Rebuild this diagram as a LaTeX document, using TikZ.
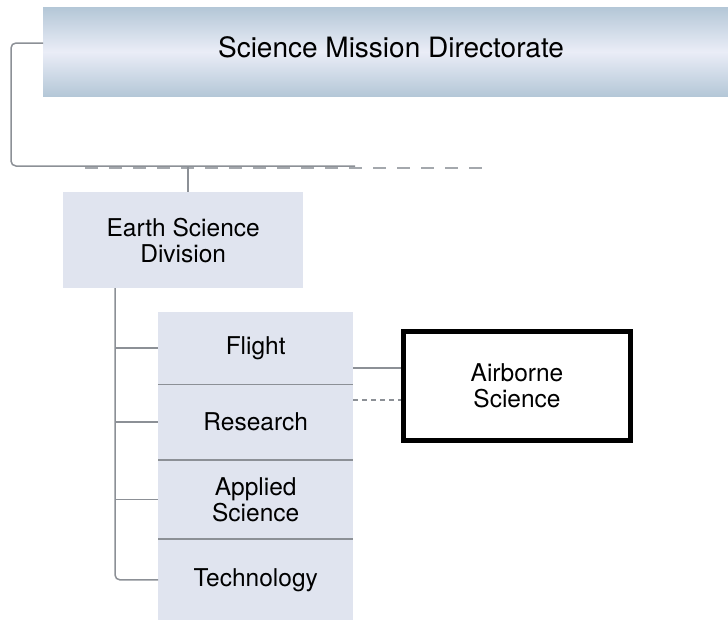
\documentclass[tikz,border=0pt]{standalone}
\usepackage{fontspec}
\setmainfont{TeX Gyre Heros}
\usetikzlibrary{positioning}

\definecolor{edgeblue}{HTML}{B4C7D7}
\definecolor{midblue}{HTML}{EAEDF7}
\definecolor{boxfill}{HTML}{E0E4EF}
\definecolor{linegray}{HTML}{8C9096}
\definecolor{dashgray}{HTML}{A4A8AD}

\tikzset{
  topbox/.style={top color=edgeblue, bottom color=edgeblue, middle color=midblue,
    draw=none, minimum width=685pt, minimum height=89pt, inner sep=0pt},
  unitbox/.style={fill=boxfill, draw=none, inner sep=0pt, align=center,
    font=\fontsize{24.5}{26}\selectfont},
  airbox/.style={draw=black, line width=5pt, fill=white, inner sep=0pt, align=center,
    minimum width=227pt, minimum height=109pt, font=\fontsize{24.5}{26}\selectfont},
  conn/.style={draw=linegray, line width=1.5pt},
  divider/.style={draw=linegray, line width=1.5pt}
}

\begin{document}
\begin{tikzpicture}[x=1pt,y=-1pt]
            \useasboundingbox (0,0) rectangle (728,619);
            % directorate
            \node [topbox, anchor=north west] (smd) at (43,7) {};
            \node [font=\fontsize{28}{30}\selectfont] (smdtext) at (391,47) {Science Mission Directorate};
            % division
            \node [unitbox, minimum width=240pt, minimum height=96pt, anchor=north west] (esd) at (63,192) {Earth Science\\Division};
            % the four programs
            \node [unitbox, minimum width=195pt, minimum height=72pt, anchor=north west] (flight) at (158,312) {Flight};
            \node [unitbox, minimum width=195pt, minimum height=75pt, below=0pt of flight] (research) {Research};
            \node [unitbox, minimum width=195pt, minimum height=79pt, below=0pt of research] (applied) {Applied\\Science};
            \node [unitbox, minimum width=195pt, minimum height=81pt, below=0pt of applied] (tech) {Technology};
            \draw [divider] (flight.south west) -- (flight.south east);
            \draw [divider] (research.south west) -- (research.south east);
            \draw [divider] (applied.south west) -- (applied.south east);
            % airborne science
            \node [airbox] (air) at (517,386) {Airborne\\Science};
            % connectors
            \coordinate (smdleft) at (43,43);
            \coordinate (bar) at (11,166);
            \coordinate (barend) at (355,166);
            \coordinate (trunk) at (115,288);
            \draw [dashgray, line width=1.5pt, dash pattern=on 13pt off 11pt] (85,168) -- (490,168);
            \draw [conn, rounded corners=5pt] (smdleft) -- (smdleft -| bar) -- (bar) -- (barend);
            \draw [conn] (bar -| 188,0) -- (esd.north -| 188,0);
            \draw [conn, rounded corners=5pt] (trunk) -- (tech.west -| trunk) -- (tech.west);
            \draw [conn] (flight.west -| trunk) -- (flight.west);
            \draw [conn] (research.west -| trunk) -- (research.west);
            \draw [conn] (applied.west -| trunk) -- (applied.west);
            \draw [conn] ([yshift=18pt]air.west -| flight.east) -- ([yshift=18pt]air.west);
            \draw [conn, dashed, dash pattern=on 5pt off 4pt] ([yshift=-14pt]air.west -| flight.east) -- ([yshift=-14pt]air.west);
        \end{tikzpicture}
\end{document}
